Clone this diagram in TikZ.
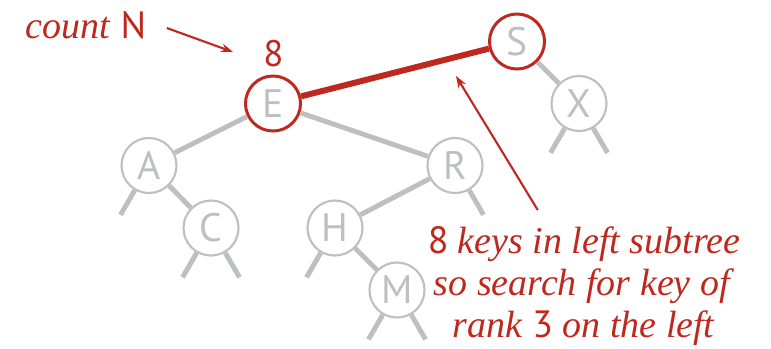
\documentclass[tikz,border=0pt]{standalone}
\usepackage{fontspec}
\setmainfont{Liberation Serif}
\newfontfamily\keyfont{PT Sans}
\usetikzlibrary{arrows.meta}
\definecolor{bookred}{RGB}{190,40,30}
\definecolor{linkgray}{RGB}{190,191,195}
\tikzset{
  key/.style={circle, draw=linkgray, line width=0.6pt, fill=white,
    minimum size=0.55cm, inner sep=0pt, text=linkgray,
    font=\keyfont\fontsize{11.3}{12}\selectfont},
  hit/.style={draw=bookred, line width=0.85pt},
  link/.style={draw=linkgray, line width=1.4pt},
  pointer/.style={draw=bookred, line width=0.6pt,
    -{Stealth[length=3.4pt, width=2.4pt]}},
  remark/.style={text=bookred, font=\fontsize{10.8}{11.9}\selectfont}
}
\begin{document}
\begin{tikzpicture}[x=0.01cm, y=0.01cm]
  \useasboundingbox (0,0) rectangle (771,348);
  % keys
  \node[key, hit] (S) at (517,306.5) {S};
  \node[key, hit] (E) at (273,244.5) {E};
  \foreach \k/\x/\y in {X/579/244.5, A/149/182.5, R/455/182.5,
                        C/211/120, H/335/120, M/397/58}
    \node[key] (\k) at (\x,\y) {\k};
  % links
  \draw[link] (E) -- (A) (E) -- (R) (A) -- (C) (R) -- (H) (H) -- (M) (S) -- (X);
  \draw[bookred, line width=1.7pt] (E) -- (S);
  \foreach \k/\a in {A/240, C/240, C/300, H/240, M/240, M/300, R/300, X/240, X/300}
    \draw[link] (\k) -- ++(\a:57);
  % labels
  \node[remark] (count) at (86,323) {\textit{count} {\keyfont N}};
  \node[remark, font=\keyfont\fontsize{10.5}{12}\selectfont] (size) at (273.5,294.5) {8};
  \coordinate (countTip) at (233,296);
  \draw[pointer, shorten <=2.5pt] (count.east) -- (countTip);
  \node[remark, align=center, inner xsep=0pt, inner ysep=4.5pt, anchor=north] (note) at (584,138)
    {{\keyfont 8} \textit{keys in left subtree}\\
     \textit{so search for key of}\\
     \textit{rank} {\keyfont 3} \textit{on the left}};
  \coordinate (edgeTip) at (456,272);
  \draw[pointer] (note) -- (edgeTip);
\end{tikzpicture}
\end{document}
